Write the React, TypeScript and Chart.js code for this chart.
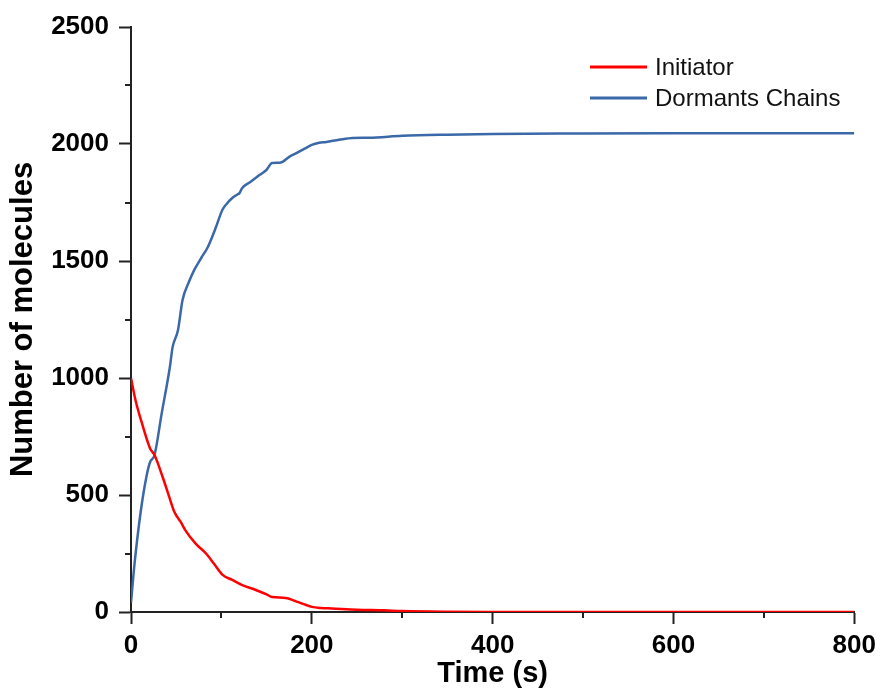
import React, { useEffect, useRef } from "react";
import { Chart, registerables } from "chart.js";

Chart.register(...registerables);

const initiatorTime = [0, 5, 12, 21, 26, 35, 42, 48, 55, 60, 72, 83, 92, 101, 112, 123, 138, 150, 156, 171, 185, 200, 210, 222, 250, 280, 300, 350, 400, 800];
const initiatorCount = [1000, 905, 808, 700, 671, 577, 495, 427, 385, 350, 290, 250, 205, 160, 137, 115, 94, 75, 64, 60, 42, 22, 17, 15, 10, 7, 4, 1, 0, 0];

const dormantTime = [0, 4, 11, 17, 21, 26, 34, 43, 46, 52, 57, 64, 70, 78, 85, 94, 101, 106, 112, 118, 120, 123, 132, 142, 150, 156, 164, 168, 175, 183, 192, 200, 208, 216, 230, 245, 263, 300, 350, 400, 500, 600, 700, 800];
const dormantCount = [40, 210, 436, 577, 640, 671, 850, 1047, 1132, 1205, 1333, 1410, 1462, 1515, 1560, 1645, 1718, 1745, 1769, 1785, 1790, 1812, 1838, 1867, 1890, 1919, 1920, 1925, 1945, 1961, 1980, 1996, 2005, 2009, 2018, 2026, 2027, 2035, 2040, 2043, 2045, 2046, 2046, 2046];

const seriesLabels = ["Initiator", "Dormants Chains"];
const seriesColors = ["#ff0000", "#3a68a8"];

const yMajorTicks = [0, 500, 1000, 1500, 2000, 2500];
const yMinorTicks = [250, 750, 1250, 1750, 2250];
const xMajorTicks = [0, 200, 400, 600, 800];
const xMinorTicks = [100, 300, 500, 700];

const FONT = '"Liberation Sans", Arial, sans-serif';

const minorTickPlugin = {
  id: "minorTicks",
  afterDraw(chart: any) {
    const ctx = chart.ctx;
    const x = chart.scales.x;
    const y = chart.scales.y;
    const area = chart.chartArea;
    ctx.save();
    ctx.strokeStyle = "#222";
    ctx.lineWidth = 2;
    ctx.beginPath();
    yMinorTicks.forEach((v) => {
      const py = Math.round(y.getPixelForValue(v));
      ctx.moveTo(area.left - 6, py);
      ctx.lineTo(area.left, py);
    });
    xMinorTicks.forEach((v) => {
      const px = Math.round(x.getPixelForValue(v));
      ctx.moveTo(px, area.bottom);
      ctx.lineTo(px, area.bottom + 6);
    });
    ctx.stroke();
    ctx.restore();
  },
};

const legendPlugin = {
  id: "customLegend",
  afterDraw(chart: any) {
    const ctx = chart.ctx;
    ctx.save();
    ctx.font = `24px ${FONT}`;
    ctx.textBaseline = "middle";
    ctx.textAlign = "left";
    chart.data.datasets.forEach((ds: any, i: number) => {
      const yy = 67 + i * 31;
      ctx.strokeStyle = ds.borderColor;
      ctx.lineWidth = 3;
      ctx.beginPath();
      ctx.moveTo(590, yy);
      ctx.lineTo(647, yy);
      ctx.stroke();
      ctx.fillStyle = "#111";
      ctx.fillText(ds.label, 655, yy + 1);
    });
    ctx.restore();
  },
};

export default function App() {
  const canvasRef = useRef<HTMLCanvasElement | null>(null);

  useEffect(() => {
    if (!canvasRef.current) return;
    const chart = new Chart(canvasRef.current, {
      type: "line",
      data: {
        datasets: [
          {
            label: seriesLabels[0],
            data: initiatorTime.map((t, i) => ({ x: t, y: initiatorCount[i] })),
            borderColor: seriesColors[0],
            borderWidth: 2.5,
            pointRadius: 0,
            cubicInterpolationMode: "monotone",
            fill: false,
          },
          {
            label: seriesLabels[1],
            data: dormantTime.map((t, i) => ({ x: t, y: dormantCount[i] })),
            borderColor: seriesColors[1],
            borderWidth: 2.5,
            pointRadius: 0,
            cubicInterpolationMode: "monotone",
            fill: false,
          },
        ],
      },
      options: {
        responsive: false,
        animation: false,
        layout: { padding: { top: 27, right: 25, left: 0, bottom: 0 } },
        plugins: {
          legend: { display: false },
          tooltip: { enabled: false },
        },
        scales: {
          x: {
            type: "linear",
            min: 0,
            max: 800,
            afterBuildTicks: (s: any) => {
              s.ticks = xMajorTicks.map((v) => ({ value: v }));
            },
            afterFit: (s: any) => {
              s.height = 78;
            },
            grid: {
              display: true,
              drawOnChartArea: false,
              drawTicks: true,
              tickLength: 12,
              tickWidth: 2,
              tickColor: "#222",
            },
            border: { display: true, color: "#222", width: 2 },
            ticks: {
              padding: 6,
              color: "#000",
              maxRotation: 0,
              callback: (v: any) => String(v),
              font: { family: FONT, size: 26, weight: "bold" },
            },
            title: {
              display: true,
              text: "Time (s)",
              color: "#000",
              font: { family: FONT, size: 29, weight: "bold", lineHeight: 1 },
              padding: { top: 0, bottom: 2 },
            },
          },
          y: {
            type: "linear",
            min: 0,
            max: 2500,
            afterBuildTicks: (s: any) => {
              s.ticks = yMajorTicks.map((v) => ({ value: v }));
            },
            afterFit: (s: any) => {
              s.width = 131;
            },
            grid: {
              display: true,
              drawOnChartArea: false,
              drawTicks: true,
              tickLength: 12,
              tickWidth: 2,
              tickColor: "#222",
            },
            border: { display: true, color: "#222", width: 2 },
            ticks: {
              padding: 10,
              color: "#000",
              callback: (v: any) => String(v),
              font: { family: FONT, size: 26, weight: "bold" },
            },
            title: {
              display: true,
              text: "Number of molecules",
              color: "#000",
              font: { family: FONT, size: 31, weight: "bold", lineHeight: 1.2 },
              padding: { top: 5, bottom: 0 },
            },
          },
        },
      },
      plugins: [minorTickPlugin, legendPlugin],
    } as any);
    return () => chart.destroy();
  }, []);

  return (
    <div style={{ position: "fixed", left: 0, top: 0, width: 882, height: 690, background: "#fff" }}>
      <canvas ref={canvasRef} width={882} height={690} />
    </div>
  );
}
